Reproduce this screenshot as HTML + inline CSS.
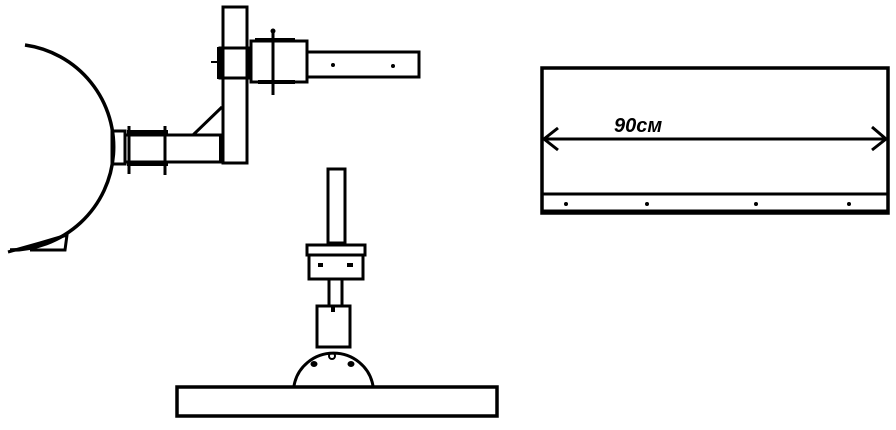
<!DOCTYPE html>
<html><head><meta charset="utf-8"><style>html,body{margin:0;padding:0;background:#fff}svg{display:block}</style></head>
<body>
<svg width="896" height="430" viewBox="0 0 896 430" xmlns="http://www.w3.org/2000/svg">
<g fill="none" stroke="#000" stroke-width="3">
<!-- arc -->
<path d="M25,45 A103,103 0 0 1 10,250" stroke-width="3.5"/>
<path d="M8,252 L40,243 L67,235 L65,250 L30,250"/>
<!-- horizontal arm -->
<rect x="112" y="131" width="13" height="33"/>
<rect x="125" y="135" width="97" height="27"/>
<line x1="127" y1="132" x2="168" y2="132" stroke-width="4"/>
<line x1="127" y1="164" x2="168" y2="164" stroke-width="4"/>
<line x1="129" y1="126" x2="129" y2="174"/>
<line x1="165" y1="126" x2="165" y2="175"/>
<!-- post -->
<rect x="223" y="7" width="24" height="156"/>
<line x1="193" y1="135" x2="222" y2="107"/>
<line x1="221" y1="135" x2="221" y2="162" stroke-width="4"/>
<!-- post clamp -->
<rect x="220" y="48" width="30" height="30"/>
<line x1="220" y1="47" x2="220" y2="79" stroke-width="6"/>
<line x1="248" y1="47" x2="248" y2="79" stroke-width="5"/>
<line x1="211" y1="62" x2="219" y2="62" stroke-width="2"/>
<rect x="251" y="41" width="56" height="41"/>
<line x1="255" y1="40" x2="295" y2="40" stroke-width="4"/>
<line x1="258" y1="82" x2="295" y2="82" stroke-width="4"/>
<line x1="273" y1="30" x2="273" y2="95"/>
<rect x="307" y="52" width="112" height="25"/>
<!-- lower assembly -->
<rect x="328" y="169" width="17" height="74"/>
<rect x="307" y="245" width="58" height="10"/>
<rect x="309" y="255" width="54" height="24"/>
<rect x="329" y="279" width="13" height="27"/>
<rect x="317" y="306" width="33" height="41"/>
<path d="M294,386 A40,39 0 0 1 373,386"/>
<rect x="177" y="387" width="320" height="29" stroke-width="3.5"/>
<!-- right panel -->
<rect x="542" y="68" width="346" height="145" stroke-width="3.5"/>
<line x1="542" y1="194" x2="888" y2="194" stroke-width="3"/>
<line x1="542" y1="212" x2="888" y2="212" stroke-width="5"/>
<line x1="544" y1="139" x2="886" y2="139" stroke-width="3"/>
<polyline points="558,128 544,139 558,150" stroke-width="3"/>
<polyline points="872,127 886,139 872,150" stroke-width="3"/>
</g>
<g fill="#000">
<circle cx="273" cy="31" r="2.5"/>
<circle cx="333" cy="65" r="2"/><circle cx="393" cy="66" r="2"/>
<rect x="318" y="263" width="5" height="4"/><rect x="347" y="263" width="6" height="4"/>
<rect x="331" y="306" width="4" height="6"/>
<ellipse cx="314" cy="364" rx="3.5" ry="3"/><ellipse cx="351" cy="364" rx="3.5" ry="3"/>
<circle cx="566" cy="204" r="2"/><circle cx="647" cy="204" r="2"/><circle cx="756" cy="204" r="2"/><circle cx="849" cy="204" r="2"/>
</g>
<circle cx="332" cy="356" r="3" fill="none" stroke="#000" stroke-width="2"/>
<text x="614" y="132" font-family="Liberation Sans, sans-serif" font-size="20" font-style="italic" font-weight="bold">90см</text>
</svg>
</body></html>
